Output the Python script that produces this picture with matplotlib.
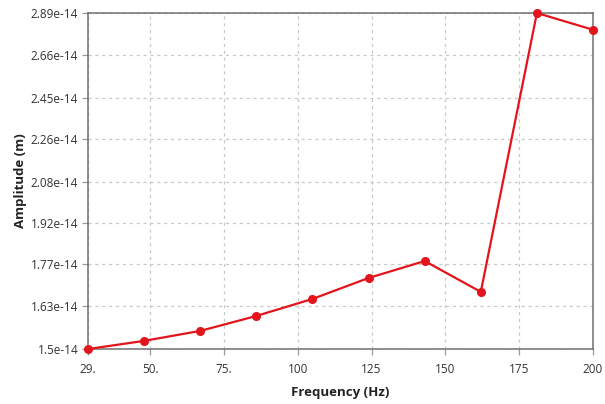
import matplotlib
matplotlib.use("Agg")
import matplotlib.pyplot as plt
from matplotlib.ticker import FixedLocator, FixedFormatter, NullLocator

# frequency sweep results
freq = [29, 48, 67, 86, 105, 124, 143, 162, 181, 200]
amp = [1.50e-14, 1.524e-14, 1.554e-14, 1.600e-14, 1.654e-14,
       1.723e-14, 1.781e-14, 1.677e-14, 2.89e-14, 2.797e-14]

xticks = [29, 50, 75, 100, 125, 150, 175, 200]
xlabels = ["29.", "50.", "75.", "100", "125", "150", "175", "200"]
yticks = [1.5e-14, 1.63e-14, 1.77e-14, 1.92e-14, 2.08e-14,
          2.26e-14, 2.45e-14, 2.66e-14, 2.89e-14]
ylabels = ["1.5e-14", "1.63e-14", "1.77e-14", "1.92e-14", "2.08e-14",
           "2.26e-14", "2.45e-14", "2.66e-14", "2.89e-14"]

plt.rcParams['font.family'] = ['Open Sans', 'DejaVu Sans']

fig = plt.figure(figsize=(6.05, 4.04), dpi=100)
ax = fig.add_axes([0.1455, 0.1361, 0.8347, 0.8317])

ax.plot(freq, amp, color='#e3141c', lw=1.6, marker='o', ms=5.5,
        clip_on=False, zorder=3)

ax.set_yscale('log')
ax.set_xlim(29, 200)
ax.set_ylim(1.5e-14, 2.89e-14)

ax.xaxis.set_major_locator(FixedLocator(xticks))
ax.xaxis.set_major_formatter(FixedFormatter(xlabels))
ax.yaxis.set_major_locator(FixedLocator(yticks))
ax.yaxis.set_major_formatter(FixedFormatter(ylabels))
ax.yaxis.set_minor_locator(NullLocator())
ax.xaxis.set_minor_locator(NullLocator())

ax.grid(True, color='#c8c8c8', ls=(0, (2.5, 3)), lw=0.9)
ax.tick_params(axis='both', labelsize=8.5, colors='#9a9a9a', labelcolor='#333333',
               length=4, width=0.9)
ax.tick_params(axis='x', pad=6)
ax.tick_params(axis='y', pad=3)
for s in ax.spines.values():
    s.set_color('#707070')
    s.set_linewidth(1.1)

ax.set_xlabel('Frequency (Hz)', fontsize=9.5, fontweight='bold', color='#222222', labelpad=7)
ax.set_ylabel('Amplitude (m)', fontsize=9.5, fontweight='bold', color='#222222', labelpad=3)

fig.savefig('out.png', dpi=100)
